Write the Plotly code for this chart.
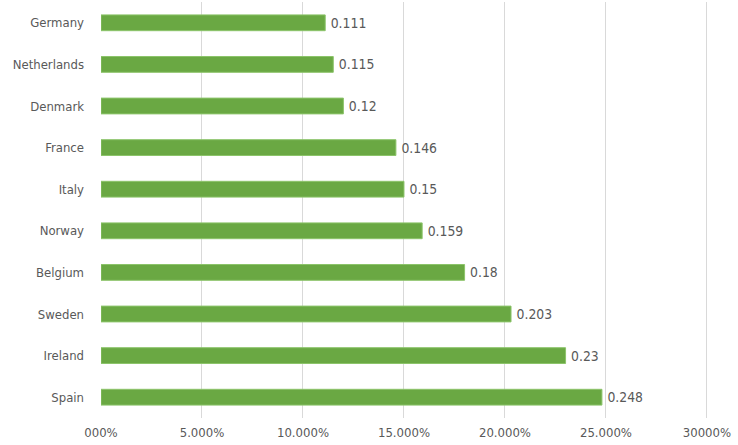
import plotly.graph_objects as go

countries = ["Germany", "Netherlands", "Denmark", "France", "Italy",
             "Norway", "Belgium", "Sweden", "Ireland", "Spain"]
values = [0.111, 0.115, 0.12, 0.146, 0.15, 0.159, 0.18, 0.203, 0.23, 0.248]
value_labels = ["0.111", "0.115", "0.12", "0.146", "0.15", "0.159",
                "0.18", "0.203", "0.23", "0.248"]
tick_vals = [0, 0.05, 0.10, 0.15, 0.20, 0.25, 0.30]
tick_text = ["000%", "5.000%", "10.000%", "15.000%", "20.000%", "25.000%", "30000%"]

font_family = "DejaVu Sans Condensed, Liberation Sans Narrow, Arial"

fig = go.Figure(go.Bar(
    x=values,
    y=countries,
    orientation="h",
    text=["\u2009" + t for t in value_labels],
    textposition="outside",
    cliponaxis=False,
    textfont=dict(size=14, color="#595959", family=font_family),
    marker=dict(color="#6aa843", line=dict(color="#8cc46a", width=1)),
))

fig.update_layout(
    width=738, height=445,
    margin=dict(l=101, r=27, t=2, b=27),
    paper_bgcolor="white",
    plot_bgcolor="white",
    bargap=0.62,
    showlegend=False,
    font=dict(family=font_family, color="#595959", size=13),
)
fig.update_xaxes(
    range=[0, 0.302],
    tickvals=tick_vals,
    ticktext=tick_text,
    showgrid=True,
    gridcolor="#d9d9d9",
    gridwidth=1,
    zeroline=False,
    showline=False,
    automargin=False,
    ticklabelstandoff=5,
    tickfont=dict(size=13, color="#595959"),
    ticks="",
)
fig.update_yaxes(
    categoryorder="array",
    categoryarray=countries[::-1],
    showgrid=False,
    zeroline=False,
    showline=False,
    automargin=False,
    ticks="",
    ticklabelstandoff=16,
    tickfont=dict(size=13, color="#595959"),
)

fig.write_html(
    "out.html",
    config={"displayModeBar": False},
    post_script="document.body.style.margin='0px';document.body.style.overflow='hidden';",
)
